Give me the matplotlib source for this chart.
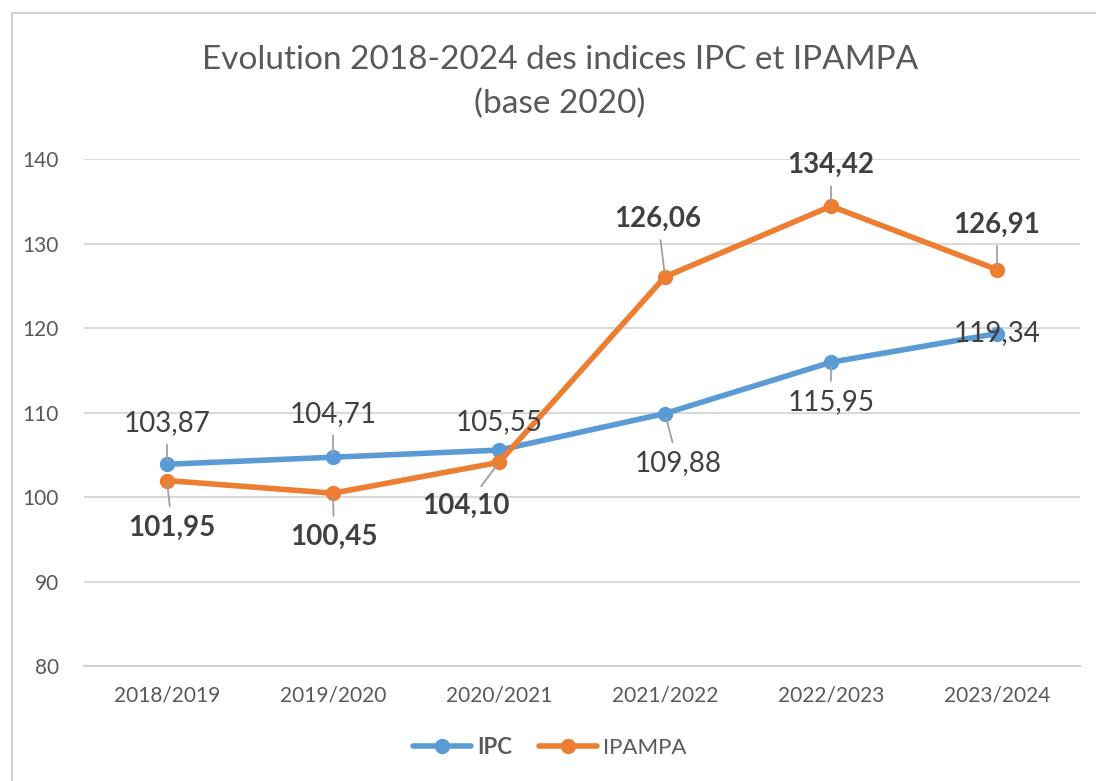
import matplotlib.pyplot as plt
from matplotlib.patches import Rectangle

plt.rcParams['font.family'] = ['Lato', 'DejaVu Sans']

# data
periods = ['2018/2019', '2019/2020', '2020/2021', '2021/2022', '2022/2023', '2023/2024']
ipc = [103.87, 104.71, 105.55, 109.88, 115.95, 119.34]
ipampa = [101.95, 100.45, 104.10, 126.06, 134.42, 126.91]

# label offsets in pixels (dx, dy) and whether a leader line is drawn
ipc_off = [(0, 41), (0, 43), (0, 28), (13, -50), (0, -40), (0, 1)]
ipc_lead = [True, True, False, True, True, False]
ipampa_off = [(5, -47), (1, -44), (-33, -44), (-7, 58), (0, 41), (0, 45)]
ipampa_lead = [True, True, True, True, True, True]

blue = '#5B9BD5'
orange = '#ED7D31'
txt = '#404040'

fig = plt.figure(figsize=(10.96, 7.81), dpi=100)
fig.patches.append(Rectangle((12 / 1096, -0.05), 1.2, 1 - 13 / 781 + 0.05,
                             transform=fig.transFigure, fill=False,
                             edgecolor='#d0d0d0', lw=1.5))
ax = fig.add_axes([84 / 1096, 1 - 666 / 781, (1080 - 84) / 1096, (666 - 159) / 781])

x = range(len(periods))
ax.plot(x, ipc, color=blue, lw=4, marker='o', ms=10, label='IPC', zorder=3,
        solid_capstyle='round')
ax.plot(x, ipampa, color=orange, lw=4, marker='o', ms=10, label='IPAMPA', zorder=3,
        solid_capstyle='round')

for i, v in enumerate(ipc):
    ap = dict(arrowstyle='-', color='#a0a0a0', lw=1.3, shrinkA=4, shrinkB=3) if ipc_lead[i] else None
    ax.annotate(f'{v:.2f}'.replace('.', ','), (i, v), xytext=ipc_off[i],
                textcoords='offset pixels', ha='center', va='center',
                fontsize=20, color=txt, arrowprops=ap, zorder=4)
for i, v in enumerate(ipampa):
    ap = dict(arrowstyle='-', color='#a0a0a0', lw=1.3, shrinkA=4, shrinkB=3) if ipampa_lead[i] else None
    ax.annotate(f'{v:.2f}'.replace('.', ','), (i, v), xytext=ipampa_off[i],
                textcoords='offset pixels', ha='center', va='center',
                fontsize=20, fontweight='bold', color=txt, arrowprops=ap, zorder=4)

ax.set_xlim(-0.5, 5.5)
ax.set_ylim(80, 140)
ax.set_yticks(range(80, 141, 10))
ax.set_xticks(list(x))
ax.set_xticklabels(periods)
ax.grid(axis='y', color='#d9d9d9', lw=1.5)
ax.set_axisbelow(True)
for s in ['top', 'right', 'left']:
    ax.spines[s].set_visible(False)
ax.spines['bottom'].set_color('#d0d0d0')
ax.spines['bottom'].set_linewidth(1.5)
ax.tick_params(axis='both', length=0, labelsize=15, colors='#595959')
ax.tick_params(axis='y', pad=18)
ax.tick_params(axis='x', pad=14)

fig.text(560 / 1096, 1 - 60 / 781, 'Evolution 2018-2024 des indices IPC et IPAMPA',
         ha='center', va='center', fontsize=24, color='#595959')
fig.text(560 / 1096, 1 - 104 / 781, '(base 2020)',
         ha='center', va='center', fontsize=24, color='#595959')

leg = fig.legend(loc='center', bbox_to_anchor=(550 / 1096, 1 - 747 / 781), ncol=2,
                 frameon=False, fontsize=16, handlelength=2.6, columnspacing=1.2,
                 handletextpad=0.3, labelcolor='#595959')
leg.get_texts()[0].set_fontweight('bold')

fig.savefig('out.png', dpi=100)
